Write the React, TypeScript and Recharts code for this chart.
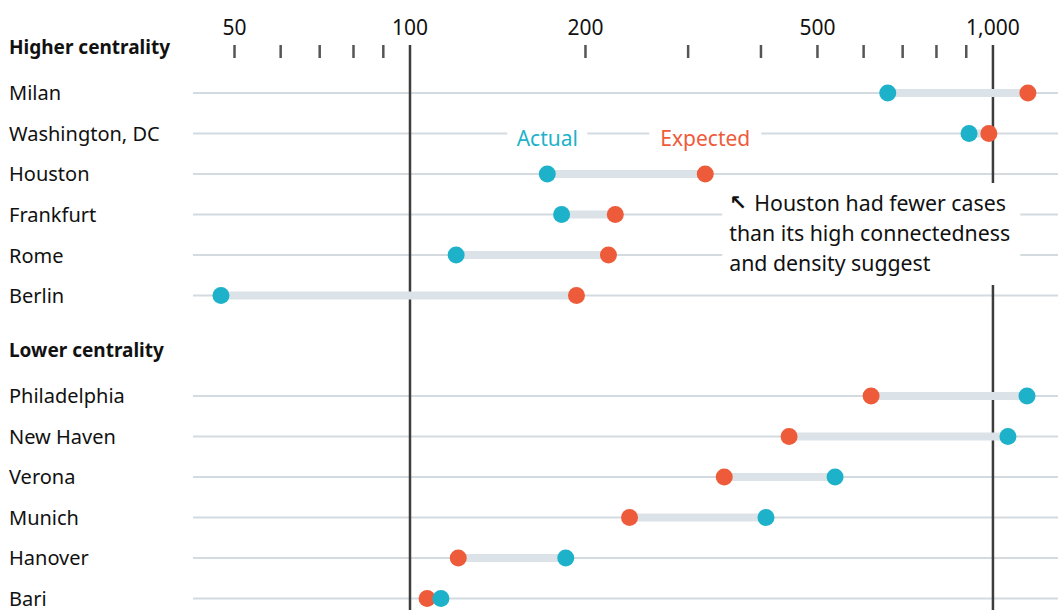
import React from 'react';
import { ScatterChart, Scatter, XAxis, YAxis, ReferenceLine, ReferenceDot } from 'recharts';

// cases per 100k
const HIGH_CITIES = ['Milan', 'Washington, DC', 'Houston', 'Frankfurt', 'Rome', 'Berlin'];
const HIGH_ACTUAL = [660, 910, 172, 182, 120, 47.4];
const HIGH_EXPECTED = [1148, 984, 321, 225, 219, 193];

const LOW_CITIES = ['Philadelphia', 'New Haven', 'Verona', 'Munich', 'Hanover', 'Bari'];
const LOW_ACTUAL = [1144, 1061, 536, 408, 185, 113];
const LOW_EXPECTED = [618, 447, 346, 238, 121, 107];

const GROUP_TITLES = ['Higher centrality', 'Lower centrality'];
const X_TICKS = [50, 60, 70, 80, 90, 100, 200, 300, 400, 500, 600, 700, 800, 900, 1000];
const X_LABELLED = [50, 100, 200, 500, 1000];
const NOTE_LINES = ['Houston had fewer cases', 'than its high connectedness', 'and density suggest'];

const ACTUAL_COLOR = '#1db2c9';
const EXPECTED_COLOR = '#ee5b3b';
const FONT = '"Noto Sans", sans-serif';

// row positions in "row units" (one unit = one city row)
const HIGH_START = 0;
const LOW_START = 7.48;

const rows = [
  ...HIGH_CITIES.map((name, i) => ({ name, actual: HIGH_ACTUAL[i], expected: HIGH_EXPECTED[i], y: HIGH_START + i })),
  ...LOW_CITIES.map((name, i) => ({ name, actual: LOW_ACTUAL[i], expected: LOW_EXPECTED[i], y: LOW_START + i })),
];

const yLabels = [
  { y: HIGH_START - 1.13, label: GROUP_TITLES[0], header: true },
  ...rows.slice(0, 6).map(r => ({ y: r.y, label: r.name, header: false })),
  { y: LOW_START - 1.13, label: GROUP_TITLES[1], header: true },
  ...rows.slice(6).map(r => ({ y: r.y, label: r.name, header: false })),
];

const actualData = rows.map(r => ({ x: r.actual, y: r.y }));
const expectedData = rows.map(r => ({ x: r.expected, y: r.y }));
const houston = rows.find(r => r.name === 'Houston')!;
const washington = rows.find(r => r.name === 'Washington, DC')!;

const XTick = (props: any) => {
  const { x, payload } = props;
  const v = payload.value;
  const labelled = X_LABELLED.includes(v);
  const major = v === 100 || v === 1000;
  return (
    <g>
      {!major && <line x1={x} x2={x} y1={45} y2={58} stroke="#555" strokeWidth={2.5} />}
      {labelled && (
        <text x={x} y={27} textAnchor="middle" dominantBaseline="central" fontFamily={FONT} fontSize={21} fill="#111">
          {v.toLocaleString('en-US')}
        </text>
      )}
    </g>
  );
};

const YTick = (props: any) => {
  const { y, payload } = props;
  const item = yLabels.find(l => Math.abs(l.y - payload.value) < 1e-6);
  if (!item) return null;
  return (
    <text x={9} y={y} textAnchor="start" dominantBaseline="central" fontFamily={FONT}
      fontSize={item.header ? 19 : 20} fontWeight={item.header ? 700 : 400} fill="#111">
      {item.label}
    </text>
  );
};

const dot = (color: string) => (p: any) => <circle cx={p.cx} cy={p.cy} r={8.5} fill={color} />;

const legendLabel = (text: string, color: string, w: number) => (p: any) => (
  <g>
    <rect x={p.cx - w / 2} y={p.cy - 15} width={w} height={30} fill="#fff" />
    <text x={p.cx} y={p.cy} textAnchor="middle" dominantBaseline="central" fontFamily={FONT} fontSize={21} fill={color}>
      {text}
    </text>
  </g>
);

const noteShape = (p: any) => (
  <g>
    <rect x={p.cx + 17} y={p.cy + 9} width={298} height={102} fill="#fff" />
    <text x={p.cx + 24} y={p.cy + 29} dominantBaseline="central" fontFamily="DejaVu Sans" fontWeight={700} fontSize={21} fill="#111">
      ↖
    </text>
    {NOTE_LINES.map((t, i) => (
      <text key={t} x={p.cx + (i === 0 ? 49 : 24)} y={p.cy + 29 + i * 30} dominantBaseline="central"
        fontFamily={FONT} fontSize={21.3} fill="#111">
        {t}
      </text>
    ))}
  </g>
);

export default function App() {
  return (
    <div style={{ position: 'absolute', left: 0, top: 0, background: '#fff' }}>
      <ScatterChart width={1058} height={610} margin={{ top: 0, right: 0, bottom: 0, left: 0 }}>
        <XAxis
          type="number"
          dataKey="x"
          scale="log"
          domain={[42.44, 1293]}
          allowDataOverflow
          orientation="top"
          height={45}
          ticks={X_TICKS}
          interval={0}
          tick={<XTick />}
          axisLine={false}
          tickLine={false}
        />
        <YAxis
          type="number"
          dataKey="y"
          domain={[-1.185, 12.765]}
          reversed
          allowDataOverflow
          width={193}
          ticks={yLabels.map(l => l.y)}
          interval={0}
          tick={<YTick />}
          axisLine={false}
          tickLine={false}
        />
        {rows.map(r => (
          <ReferenceLine key={'g' + r.name} y={r.y} stroke="#d3dbe0" strokeWidth={2} />
        ))}
        <ReferenceLine x={100} stroke="#3d3d3d" strokeWidth={2.5} />
        <ReferenceLine x={1000} stroke="#3d3d3d" strokeWidth={2.5} />
        {rows.map(r => (
          <ReferenceLine
            key={'b' + r.name}
            segment={[{ x: r.actual, y: r.y }, { x: r.expected, y: r.y }]}
            stroke="#dbe3e8"
            strokeWidth={8}
          />
        ))}
        <ReferenceDot x={houston.actual} y={washington.y + 0.1} r={0} shape={legendLabel('Actual', ACTUAL_COLOR, 80)} />
        <ReferenceDot x={houston.expected} y={washington.y + 0.1} r={0} shape={legendLabel('Expected', EXPECTED_COLOR, 112)} />
        <ReferenceDot x={houston.expected} y={houston.y} r={0} shape={noteShape} />
        <Scatter data={expectedData} isAnimationActive={false} shape={dot(EXPECTED_COLOR)} />
        <Scatter data={actualData} isAnimationActive={false} shape={dot(ACTUAL_COLOR)} />
      </ScatterChart>
    </div>
  );
}
